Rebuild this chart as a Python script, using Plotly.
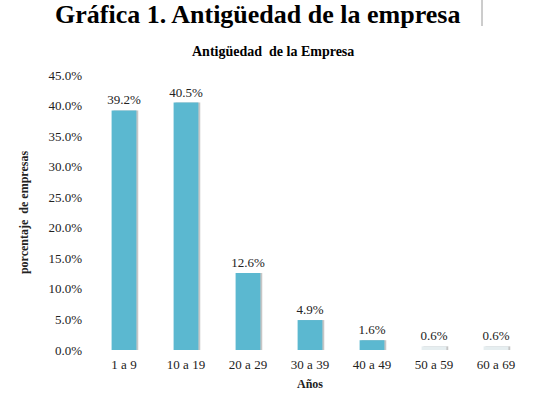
import plotly.graph_objects as go

categories = ["1 a 9", "10 a 19", "20 a 29", "30 a 39", "40 a 49", "50 a 59", "60 a 69"]
values = [39.2, 40.5, 12.6, 4.9, 1.6, 0.6, 0.6]
labels = ["39.2%", "40.5%", "12.6%", "4.9%", "1.6%", "0.6%", "0.6%"]
bar_colors = ["#5BB8D0", "#5BB8D0", "#5BB8D0", "#5BB8D0", "#5BB8D0", "#E6EEF0", "#E6EEF0"]

font = "Liberation Serif"
W, H = 546, 395
ML, MR, MT, MB = 93, 19, 75, 45
pw, ph = W - ML - MR, H - MT - MB

def px(x):
    return (x - ML) / pw

def py(y):
    return 1 + (MT - y) / ph

fig = go.Figure()
# shadow
fig.add_trace(go.Bar(
    x=categories, y=values, width=0.4, offset=-0.17,
    marker=dict(color="rgba(160,160,160,0.6)", line=dict(width=0)),
    hoverinfo="skip", showlegend=False,
))
fig.add_trace(go.Bar(
    x=categories, y=values, width=0.4, offset=-0.2,
    marker=dict(color=bar_colors, line=dict(width=0)),
    text=labels, textposition="outside", cliponaxis=False, constraintext="none",
    textfont=dict(family=font, size=13, color="#222"),
    showlegend=False,
))

fig.update_layout(
    width=W, height=H,
    barmode="overlay",
    paper_bgcolor="white", plot_bgcolor="white",
    margin=dict(l=ML, r=MR, t=MT, b=MB, autoexpand=False),
    font=dict(family=font, size=13, color="#222"),
    annotations=[
        dict(text="<b>Gráfica 1. Antigüedad de la empresa</b>",
             x=px(257), y=py(15),
             xref="paper", yref="paper", showarrow=False, yanchor="middle",
             font=dict(family=font, size=26, color="black")),
        dict(text="<b>Antigüedad  de la Empresa</b>",
             x=px(273), y=py(52),
             xref="paper", yref="paper", showarrow=False, yanchor="middle",
             font=dict(family=font, size=14, color="black")),
    ],
    shapes=[
        dict(type="line", xref="paper", yref="paper",
             x0=px(482), x1=px(482), y0=py(0), y1=py(26),
             line=dict(color="#9a9a9a", width=1)),
    ],
    xaxis=dict(
        showline=False, showgrid=False, ticks="", ticklabelstandoff=5,
        tickfont=dict(family=font, size=13, color="#222"),
        title=dict(text="<b>Años</b>", font=dict(family=font, size=12, color="#222"), standoff=8),
    ),
    yaxis=dict(
        range=[0, 45], dtick=5, tickformat=".1f", ticksuffix="%",
        showline=False, showgrid=False, zeroline=False, ticks="", ticklabelstandoff=10,
        tickfont=dict(family=font, size=13, color="#222"),
        title=dict(text="<b>porcentaje  de empresas</b>", font=dict(family=font, size=12, color="#222"), standoff=17),
    ),
)

fig.write_html("out.html", config={"displayModeBar": False},
               post_script="document.body.style.margin='0';")
